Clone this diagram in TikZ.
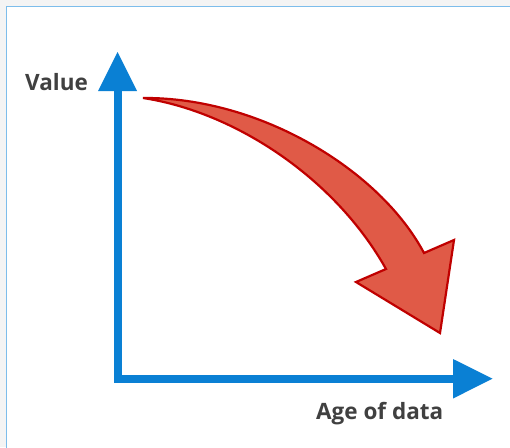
\documentclass[tikz,border=0pt]{standalone}
\usepackage{fontspec}
\setmainfont{Open Sans}
\definecolor{bgray}{HTML}{F4F4F4}
\definecolor{panelline}{HTML}{7DBDEB}
\definecolor{axisblue}{HTML}{0A80D4}
\definecolor{arrowfill}{HTML}{E05A47}
\definecolor{arrowline}{HTML}{C00000}
\definecolor{labelgray}{HTML}{404040}
\begin{document}
\begin{tikzpicture}[x=1pt,y=-1pt,
  axisline/.style={draw=none,fill=axisblue},
  axislabel/.style={font=\bfseries\fontsize{22.5}{26}\selectfont,text=labelgray,inner sep=0pt},
  bigarrow/.style={fill=arrowfill,draw=arrowline,line width=2.2pt,line join=miter}]
\useasboundingbox (0,0) rectangle (510,447);
\fill[bgray] (0,0) rectangle (510,447);
\fill[white] (6.5,6.5) rectangle (520,520);
\draw[panelline,line width=1.2pt] (6.5,520) -- (6.5,6.5) -- (520,6.5);
% coordinates
\coordinate (O) at (117.5,379);
\coordinate (ytip) at (117.5,52);
\coordinate (xtip) at (492.5,378.7);
% axes
\fill[axisline] (113.5,383) rectangle (121.5,90);
\fill[axisline] (113.5,375) rectangle (454,383);
\fill[axisline] (98,91) -- (137,91) -- (ytip) -- cycle;
\fill[axisline] (453,359) -- (453,398.5) -- (xtip) -- cycle;
% labels
\node[axislabel,anchor=base west] (val) at (25,90) {Value};
\node[axislabel,anchor=base west] (age) at (316,419) {Age of data};
% curved arrow
\coordinate (tail) at (143,98);
\coordinate (outj) at (424,253);
\coordinate (barbo) at (454,240);
\coordinate (head) at (440,333);
\coordinate (barbi) at (356,282);
\coordinate (inj) at (386,269);
\draw[bigarrow] (tail) .. controls (260,97) and (380,170) .. (outj)
  -- (barbo) -- (head) -- (barbi) -- (inj)
  .. controls (335,178) and (235,112) .. (tail) -- cycle;
\end{tikzpicture}
\end{document}
